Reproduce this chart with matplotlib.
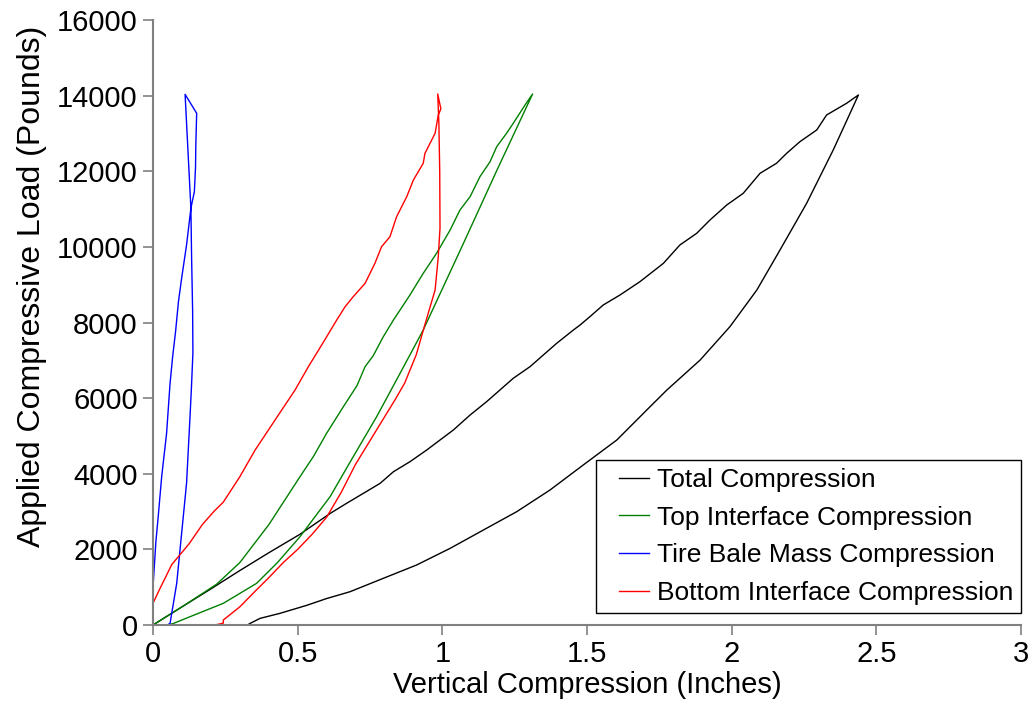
import matplotlib
matplotlib.use("Agg")
import matplotlib.pyplot as plt
from matplotlib.legend_handler import HandlerLine2D

plt.rcParams['font.family'] = ['Liberation Sans', 'DejaVu Sans']

# Total compression loop (loading branch then unloading branch)
total_x = [0, 0.10, 0.197, 0.30, 0.40, 0.508, 0.612, 0.669, 0.727, 0.785, 0.831, 0.888, 0.946, 0.992,
           1.038, 1.096, 1.153, 1.199, 1.245, 1.303, 1.349, 1.395, 1.453, 1.476, 1.510, 1.556, 1.614,
           1.683, 1.764, 1.821, 1.879, 1.925, 1.983, 2.040, 2.098, 2.155, 2.190, 2.236, 2.294, 2.328,
           2.397, 2.438,
           2.40, 2.351, 2.259, 2.167, 2.087, 1.994, 1.891, 1.776, 1.718, 1.603, 1.487, 1.372, 1.257,
           1.142, 1.027, 0.911, 0.796, 0.681, 0.60, 0.531, 0.439, 0.370, 0.335, 0.327, 0.248]
total_y = [0, 480, 940, 1440, 1910, 2400, 2950, 3218, 3482, 3747, 4054, 4319, 4628, 4893,
           5157, 5554, 5906, 6215, 6524, 6832, 7141, 7449, 7802, 7934, 8154, 8463, 8728,
           9080, 9565, 10050, 10358, 10711, 11108, 11417, 11946, 12211, 12475, 12783, 13092, 13488,
           13797, 14017,
           13380, 12563, 11152, 9918, 8860, 7890, 7008, 6215, 5774, 4893, 4232, 3570, 2997,
           2513, 2028, 1587, 1235, 881, 700, 520, 309, 176, 40, 0, 0]

# Top interface compression loop
top_x = [0, 0.10, 0.22, 0.30, 0.40, 0.508, 0.554, 0.600, 0.658, 0.705, 0.733, 0.761, 0.796, 0.831,
         0.854, 0.888, 0.934, 0.980, 1.027, 1.061, 1.096, 1.130, 1.165, 1.188, 1.222, 1.245, 1.290, 1.312,
         1.190, 1.073, 0.934, 0.854, 0.773, 0.692, 0.612, 0.508, 0.430, 0.358, 0.243, 0.128, 0.070, 0.050, 0.0]
top_y = [0, 480, 1080, 1650, 2650, 3922, 4451, 5070, 5774, 6330, 6832, 7120, 7625, 8066,
         8331, 8728, 9300, 9830, 10447, 10976, 11328, 11857, 12254, 12651, 13004, 13268, 13800, 14044,
         12050, 10094, 7802, 6657, 5509, 4451, 3393, 2335, 1650, 1102, 574, 220, 40, 0, 0]

# Tire bale mass compression loop
bale_x = [0.0, -0.004, -0.004, 0.0, 0.005, 0.010, 0.018, 0.030, 0.047, 0.059, 0.068, 0.078, 0.088,
          0.099, 0.116, 0.131, 0.143, 0.147, 0.148, 0.151, 0.111,
          0.1205, 0.131, 0.1335, 0.137, 0.138, 0.133, 0.128, 0.116, 0.099, 0.082, 0.059, 0.050]
bale_y = [560, 470, 650, 1000, 1600, 2200, 2864, 3922, 5070, 6392, 7100, 7757, 8551,
          9170, 10050, 11020, 11460, 12100, 12695, 13532, 14034,
          12600, 11020, 9700, 8300, 7200, 6300, 5509, 3747, 2425, 1102, 44, 0]

# Bottom interface compression loop
bottom_x = [0.0, 0.0, 0.02, 0.065, 0.125, 0.17, 0.21, 0.243, 0.30, 0.353, 0.42, 0.491, 0.537, 0.583,
            0.635, 0.664, 0.692, 0.733, 0.767, 0.790, 0.819, 0.842, 0.877, 0.900, 0.934, 0.940, 0.975,
            0.986, 0.995, 0.984,
            0.988, 0.991, 0.992, 0.986, 0.975, 0.94, 0.91, 0.87, 0.84, 0.80, 0.76, 0.70, 0.65, 0.60,
            0.55, 0.50, 0.45, 0.40, 0.35, 0.30, 0.243, 0.243, 0.214]
bottom_y = [0, 574, 900, 1600, 2150, 2650, 3000, 3250, 3920, 4628, 5400, 6215, 6832, 7405,
            8066, 8418, 8683, 9036, 9565, 10006, 10270, 10799, 11328, 11769, 12211, 12475, 13004,
            13488, 13650, 14044,
            13300, 12000, 10500, 9741, 8860, 7950, 7150, 6400, 6000, 5500, 5000, 4250, 3500, 2850,
            2400, 2000, 1650, 1250, 870, 480, 132, 50, 0]

xticks = [0, 0.5, 1, 1.5, 2, 2.5, 3]
xtick_labels = ["0", "0.5", "1", "1.5", "2", "2.5", "3"]
yticks = list(range(0, 16001, 2000))

fig = plt.figure(figsize=(10.33, 7.25), dpi=100)
ax = fig.add_axes([0.1481, 0.1379, 0.8403, 0.8345])

ax.plot(total_x, total_y, color="black", lw=1.0, label="Total Compression")
ax.plot(top_x, top_y, color="green", lw=1.0, label="Top Interface Compression")
ax.plot(bale_x, bale_y, color="blue", lw=1.0, label="Tire Bale Mass Compression")
ax.plot(bottom_x, bottom_y, color="red", lw=1.0, label="Bottom Interface Compression")

ax.set_xlim(0, 3)
ax.set_ylim(0, 16000)
ax.set_xticks(xticks)
ax.set_xticklabels(xtick_labels)
ax.set_yticks(yticks)

for side in ["top", "right"]:
    ax.spines[side].set_visible(False)
for side in ["left", "bottom"]:
    ax.spines[side].set_color("#808080")
    ax.spines[side].set_linewidth(1.5)
    ax.spines[side].set_clip_on(False)

ax.tick_params(axis="both", direction="out", length=7, width=1.2, color="#808080",
               labelsize=21, labelcolor="black", pad=4)

ax.set_xlabel("Vertical Compression (Inches)", fontsize=21, labelpad=2)
ax.set_ylabel("Applied Compressive Load (Pounds)", fontsize=23)
ax.yaxis.set_label_coords(-0.122, 0.559)

# short legend handles sitting to the right of a small gap, like the original
leg = ax.legend(loc="lower right", bbox_to_anchor=(1.0, 0.02), borderaxespad=0,
                fontsize=19, frameon=True, fancybox=False, framealpha=1, numpoints=2,
                handlelength=2.28, handletextpad=-0.27, labelspacing=0.52, borderpad=0.3,
                handler_map={plt.Line2D: HandlerLine2D(marker_pad=0.57)})
leg.get_frame().set_edgecolor("black")
leg.get_frame().set_linewidth(1.0)

fig.savefig("out.png", dpi=100)
